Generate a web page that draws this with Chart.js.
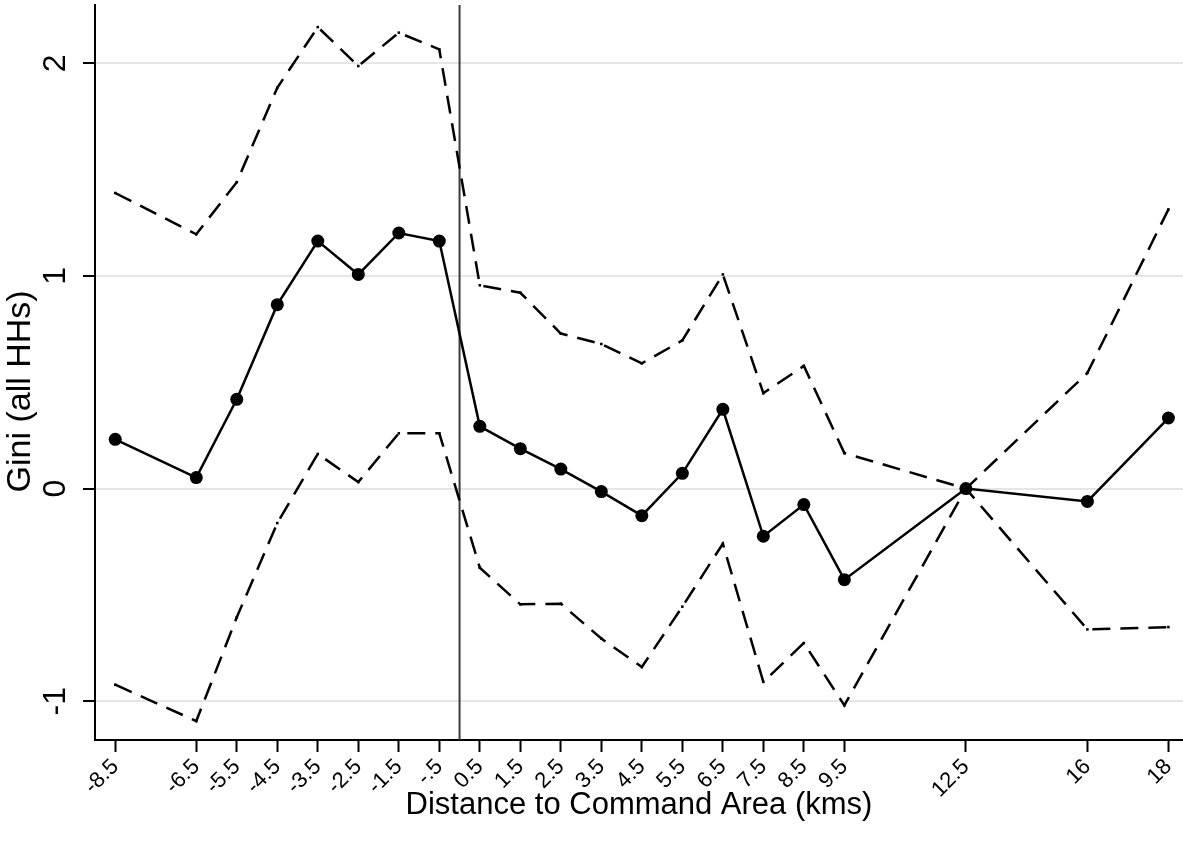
<!DOCTYPE html>
<html>
<head>
<meta charset="utf-8">
<script src="https://cdn.jsdelivr.net/npm/chart.js@4.4.1/dist/chart.umd.min.js"></script>
<style>
  html, body { margin: 0; padding: 0; background: #fff; overflow: hidden; }
  #wrap { width: 1183px; height: 846px; }
  canvas { display: block; }
</style>
</head>
<body>
<div id="wrap"><canvas id="giniChart"></canvas></div>
<script>
// distance bins (km); the last two bins sit at 15.5 and 17.5 but are labelled 16 and 18
const distances = [-8.5, -6.5, -5.5, -4.5, -3.5, -2.5, -1.5, -0.5, 0.5, 1.5, 2.5, 3.5, 4.5, 5.5, 6.5, 7.5, 8.5, 9.5, 12.5, 15.5, 17.5];
const tickLabels = ["-8.5", "-6.5", "-5.5", "-4.5", "-3.5", "-2.5", "-1.5", "-.5", "0.5", "1.5", "2.5", "3.5", "4.5", "5.5", "6.5", "7.5", "8.5", "9.5", "12.5", "16", "18"];

// point estimates and 95% band
const estimate = [0.232, 0.052, 0.42, 0.865, 1.164, 1.007, 1.202, 1.164, 0.293, 0.188, 0.092, -0.014, -0.127, 0.072, 0.373, -0.224, -0.075, -0.428, 0, -0.06, 0.332];
const upperCI = [1.39, 1.196, 1.441, 1.885, 2.17, 1.987, 2.144, 2.065, 0.956, 0.921, 0.729, 0.68, 0.589, 0.697, 1.007, 0.449, 0.577, 0.167, 0, 0.544, 1.313];
const lowerCI = [-0.922, -1.093, -0.605, -0.162, 0.163, 0.031, 0.26, 0.26, -0.372, -0.544, -0.541, -0.705, -0.839, -0.555, -0.259, -0.909, -0.726, -1.019, 0, -0.662, -0.651];

const yTicks = [-1, 0, 1, 2];
const cutoff = 0;

const FONT = "'Liberation Sans', Arial, Helvetica, sans-serif";

function toPoints(values) {
  return distances.map((d, i) => ({ x: d, y: values[i] }));
}

// vertical line at the command area boundary
const cutoffLine = {
  id: "cutoffLine",
  beforeDatasetsDraw(chart) {
    const { ctx, chartArea, scales } = chart;
    const px = scales.x.getPixelForValue(cutoff);
    ctx.save();
    ctx.strokeStyle = "#3a3a3a";
    ctx.lineWidth = 2;
    ctx.beginPath();
    ctx.moveTo(px, chartArea.top);
    ctx.lineTo(px, chartArea.bottom);
    ctx.stroke();
    ctx.restore();
  }
};

const bandStyle = {
  borderColor: "#000",
  borderWidth: 2.5,
  borderDash: [18, 10],
  pointStyle: "rect",
  pointRadius: 1.8,
  pointBackgroundColor: "#000",
  pointBorderWidth: 0,
  tension: 0,
  fill: false,
  clip: false
};

new Chart(document.getElementById("giniChart"), {
  type: "line",
  data: {
    datasets: [
      Object.assign({ label: "Upper CI", data: toPoints(upperCI) }, bandStyle),
      Object.assign({ label: "Lower CI", data: toPoints(lowerCI) }, bandStyle),
      {
        label: "Gini",
        data: toPoints(estimate),
        borderColor: "#000",
        borderWidth: 2.5,
        pointRadius: 6.5,
        pointBackgroundColor: "#000",
        pointBorderWidth: 0,
        tension: 0,
        fill: false,
        clip: false
      }
    ]
  },
  options: {
    responsive: true,
    maintainAspectRatio: false,
    animation: false,
    devicePixelRatio: 1,
    layout: { autoPadding: false, padding: { top: 5, right: 0, left: 0, bottom: 0 } },
    plugins: { legend: { display: false }, tooltip: { enabled: false } },
    scales: {
      x: {
        type: "linear",
        min: -9,
        max: 17.86,
        afterBuildTicks: s => { s.ticks = distances.map(v => ({ value: v })); },
        afterFit: s => {
          s.height = 106;
          s.paddingLeft = 0;
          s.paddingRight = 0;
        },
        grid: { drawOnChartArea: false, tickLength: 12, tickColor: "#000", tickWidth: 2 },
        border: { color: "#000", width: 2 },
        ticks: {
          color: "#000",
          font: { family: FONT, size: 22 },
          minRotation: 45,
          maxRotation: 45,
          autoSkip: false,
          padding: 2,
          callback: (v, i) => tickLabels[i]
        },
        title: {
          display: true,
          text: "Distance to Command Area (kms)",
          color: "#000",
          font: { family: FONT, size: 31 },
          padding: { top: 0, bottom: 22 }
        }
      },
      y: {
        type: "linear",
        min: -1.182,
        max: 2.274,
        afterBuildTicks: s => { s.ticks = yTicks.map(v => ({ value: v })); },
        afterFit: s => {
          s.width = 95;
          s.paddingTop = 0;
          s.paddingBottom = 0;
        },
        grid: { color: "#e6e6e6", lineWidth: 2, tickLength: 12, tickColor: "#000", tickWidth: 2 },
        border: { color: "#000", width: 2 },
        ticks: {
          color: "#000",
          font: { family: FONT, size: 32 },
          minRotation: 90,
          maxRotation: 90,
          crossAlign: "center",
          padding: 13
        },
        title: {
          display: true,
          // trailing spaces nudge the centred title towards the zero line
          text: "Gini (all HHs)    ",
          color: "#000",
          font: { family: FONT, size: 34 },
          padding: { top: 0, bottom: 0 }
        }
      }
    }
  },
  plugins: [cutoffLine]
});
</script>
</body>
</html>
